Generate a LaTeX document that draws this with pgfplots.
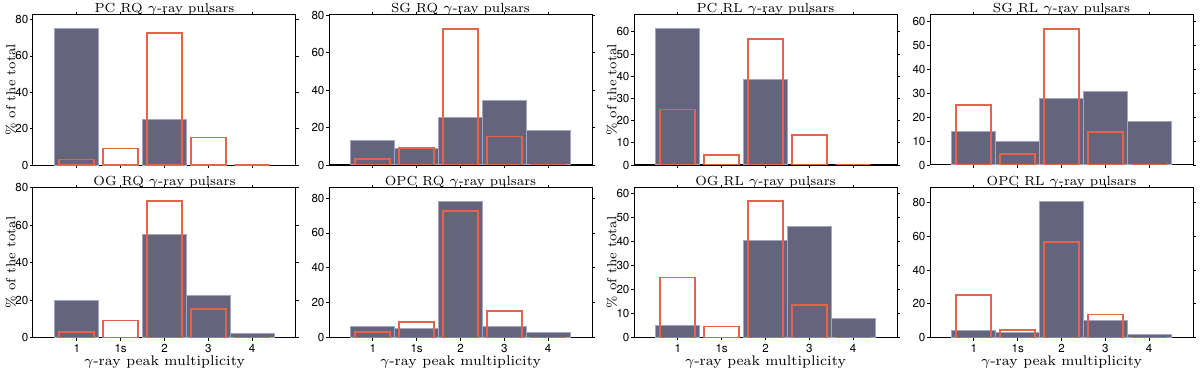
\documentclass[border=0pt]{standalone}
\usepackage{fontspec}
\usepackage{pgfplots}
\pgfplotsset{compat=1.18}
\newfontfamily\tickfont{TeX Gyre Heros}
\definecolor{modelfill}{RGB}{100,100,124}
\definecolor{modeledge}{RGB}{165,165,195}
\definecolor{obsred}{RGB}{228,100,72}

\pgfplotsset{
  panel/.style={
    scale only axis,
    width=131.5pt, height=75pt,
    anchor=north west,
    xmin=0, xmax=6, ymin=0,
    xtick={1,2,3,4,5},
    xticklabels={},
    tick align=outside,
    major tick length=1.5pt,
    axis line style={line width=0.5pt},
    tick style={line width=0.4pt, black},
    ticklabel style={font=\tickfont\fontsize{5.8}{6}\selectfont},
    yticklabel style={inner sep=0.6pt},
    xticklabel style={inner sep=1.5pt},
    /pgf/number format/assume math mode=true,
    every axis title/.style={at={(axis description cs:0.5,1)}, anchor=base,
      yshift=1.2pt, inner sep=0pt, font=\fontsize{6.6}{7}\selectfont},
    every axis x label/.style={at={(axis description cs:0.5,0)}, anchor=base,
      yshift=-13.8pt, inner sep=0pt, font=\fontsize{7}{8}\selectfont},
    every axis y label/.style={at={(axis description cs:-0.084,0.5)},
      anchor=center, rotate=90, inner sep=0pt, font=\fontsize{6.6}{7}\selectfont},
  },
  bottomrow/.style={
    xticklabels={1,1s,2,3,4},
    xlabel={$\gamma$-ray peak multiplicity},
  },
  model/.style={ybar, bar width=1, bar shift=0pt, fill=modelfill,
    draw=modeledge, line width=0.5pt},
  obs/.style={ybar, bar width=0.8, bar shift=0pt, fill=none,
    draw=obsred, line width=0.9pt},
}

\begin{document}
\begin{tikzpicture}

% ---- top row ----
\begin{axis}[panel, at={(16.5pt,-7.5pt)}, ymax=82.5, ytick={0,20,40,60,80},
  title={PC RQ $\gamma$-ray pulsars}, ylabel={\% of the total}]
\addplot[model] coordinates {(1,75.0) (3,25.0)};
\addplot[obs] coordinates {(1,3.03) (2,9.09) (3,72.73) (4,15.15) (5,0)};
\end{axis}

\begin{axis}[panel, at={(164.5pt,-7.5pt)}, ymax=80.0, ytick={0,20,40,60,80},
  title={SG RQ $\gamma$-ray pulsars}]
\addplot[model] coordinates {(1,12.8) (2,8.9) (3,25.3) (4,34.2) (5,18.6)};
\addplot[obs] coordinates {(1,3.03) (2,9.09) (3,72.73) (4,15.15) (5,0)};
\end{axis}

\begin{axis}[panel, at={(317pt,-7.5pt)}, ymax=67.6, ytick={0,10,20,30,40,50,60},
  title={PC RL $\gamma$-ray pulsars}, ylabel={\% of the total}]
\addplot[model] coordinates {(1,61.5) (3,38.5)};
\addplot[obs] coordinates {(1,25.0) (2,4.55) (3,56.82) (4,13.64) (5,0)};
\end{axis}

\begin{axis}[panel, at={(465pt,-7.5pt)}, ymax=62.5, ytick={0,10,20,30,40,50,60},
  title={SG RL $\gamma$-ray pulsars}]
\addplot[model] coordinates {(1,13.8) (2,9.8) (3,27.5) (4,30.6) (5,18.0)};
\addplot[obs] coordinates {(1,25.0) (2,4.55) (3,56.82) (4,13.64) (5,0)};
\end{axis}

% ---- bottom row ----
\begin{axis}[panel, bottomrow, at={(16.5pt,-93.75pt)}, ymax=80.0, ytick={0,20,40,60,80},
  title={OG RQ $\gamma$-ray pulsars}, ylabel={\% of the total}]
\addplot[model] coordinates {(1,19.7) (3,55.0) (4,22.4) (5,1.9)};
\addplot[obs] coordinates {(1,3.03) (2,9.09) (3,72.73) (4,15.15) (5,0)};
\end{axis}

\begin{axis}[panel, bottomrow, at={(164.5pt,-93.75pt)}, ymax=86.1, ytick={0,20,40,60,80},
  title={OPC RQ $\gamma$-ray pulsars}]
\addplot[model] coordinates {(1,6.5) (2,5.2) (3,78.3) (4,6.4) (5,3.1)};
\addplot[obs] coordinates {(1,3.03) (2,9.09) (3,72.73) (4,15.15) (5,0)};
\end{axis}

\begin{axis}[panel, bottomrow, at={(317pt,-93.75pt)}, ymax=62.5, ytick={0,10,20,30,40,50,60},
  title={OG RL $\gamma$-ray pulsars}, ylabel={\% of the total}]
\addplot[model] coordinates {(1,4.9) (3,40.3) (4,46.1) (5,8.0)};
\addplot[obs] coordinates {(1,25.0) (2,4.55) (3,56.82) (4,13.64) (5,0)};
\end{axis}

\begin{axis}[panel, bottomrow, at={(465pt,-93.75pt)}, ymax=89.0, ytick={0,20,40,60,80},
  title={OPC RL $\gamma$-ray pulsars}]
\addplot[model] coordinates {(1,4.0) (2,2.8) (3,80.9) (4,10.0) (5,1.6)};
\addplot[obs] coordinates {(1,25.0) (2,4.55) (3,56.82) (4,13.64) (5,0)};
\end{axis}

\pgfresetboundingbox
\path[use as bounding box] (0,0) rectangle (600pt,-184.5pt);
\end{tikzpicture}
\end{document}
